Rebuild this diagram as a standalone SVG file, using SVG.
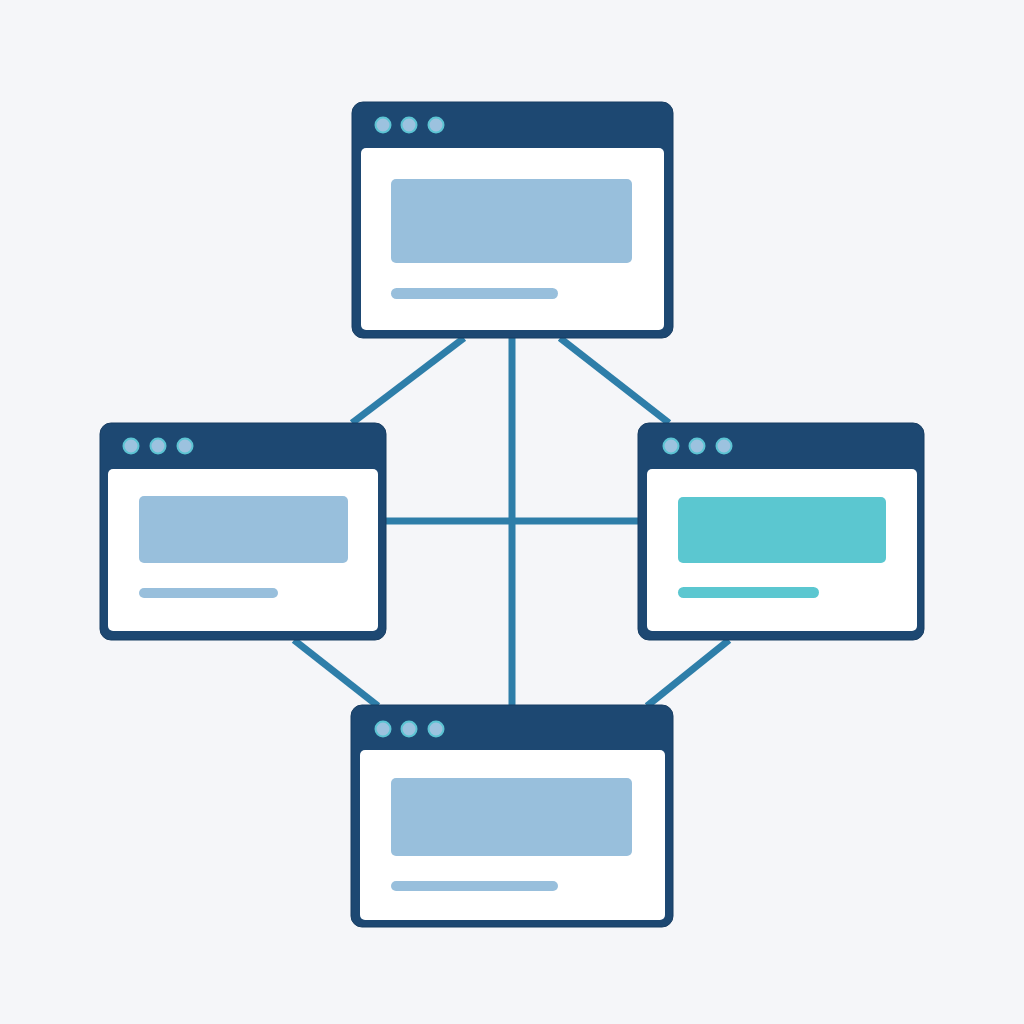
<svg xmlns="http://www.w3.org/2000/svg" width="1024" height="1024" viewBox="0 0 1024 1024">
<style>
.frame{fill:#1d4872;stroke:#173d63;stroke-width:1}
.body{fill:#ffffff}
.dot{fill:#9cc2df;stroke:#5cc4d3;stroke-width:2}
.blk{fill:#98bfdc}
.blk-t{fill:#5bc7d0}
.conn line{stroke:#2e7ea9;stroke-width:7;stroke-linecap:butt}
</style>
<rect width="1024" height="1024" fill="#f5f6f9"/>
<g class="conn" id="connectors">
<line x1="512" y1="338" x2="512" y2="705"/>
<line x1="386" y1="521" x2="638" y2="521"/>
<line x1="464" y1="338" x2="352" y2="423"/>
<line x1="560" y1="338" x2="669" y2="423"/>
<line x1="294" y1="640" x2="378" y2="706"/>
<line x1="729" y1="640" x2="647" y2="706"/>
</g>
<g id="window-top">
<rect class="frame" x="352" y="102" width="321" height="236" rx="11"/>
<rect class="body" x="361" y="148" width="303" height="182" rx="5"/>
<circle class="dot" cx="383" cy="125" r="7.5"/>
<circle class="dot" cx="409" cy="125" r="7.5"/>
<circle class="dot" cx="436" cy="125" r="7.5"/>
<rect class="blk" x="391" y="179" width="241" height="84" rx="5"/>
<rect class="blk" x="391" y="288" width="167" height="11" rx="5.5"/>
</g>
<g id="window-left">
<rect class="frame" x="100" y="423" width="286" height="217" rx="11"/>
<rect class="body" x="108" y="469" width="270" height="162" rx="5"/>
<circle class="dot" cx="131" cy="446" r="7.5"/>
<circle class="dot" cx="158" cy="446" r="7.5"/>
<circle class="dot" cx="185" cy="446" r="7.5"/>
<rect class="blk" x="139" y="496" width="209" height="67" rx="5"/>
<rect class="blk" x="139" y="588" width="139" height="10" rx="5"/>
</g>
<g id="window-right">
<rect class="frame" x="638" y="423" width="286" height="217" rx="11"/>
<rect class="body" x="647" y="469" width="270" height="162" rx="5"/>
<circle class="dot" cx="671" cy="446" r="7.5"/>
<circle class="dot" cx="697" cy="446" r="7.5"/>
<circle class="dot" cx="724" cy="446" r="7.5"/>
<rect class="blk-t" x="678" y="497" width="208" height="66" rx="5"/>
<rect class="blk-t" x="678" y="587" width="141" height="11" rx="5.5"/>
</g>
<g id="window-bottom">
<rect class="frame" x="351" y="705" width="322" height="222" rx="11"/>
<rect class="body" x="360" y="750" width="305" height="170" rx="5"/>
<circle class="dot" cx="383" cy="729" r="7.5"/>
<circle class="dot" cx="409" cy="729" r="7.5"/>
<circle class="dot" cx="436" cy="729" r="7.5"/>
<rect class="blk" x="391" y="778" width="241" height="78" rx="5"/>
<rect class="blk" x="391" y="881" width="167" height="10" rx="5"/>
</g>
</svg>
